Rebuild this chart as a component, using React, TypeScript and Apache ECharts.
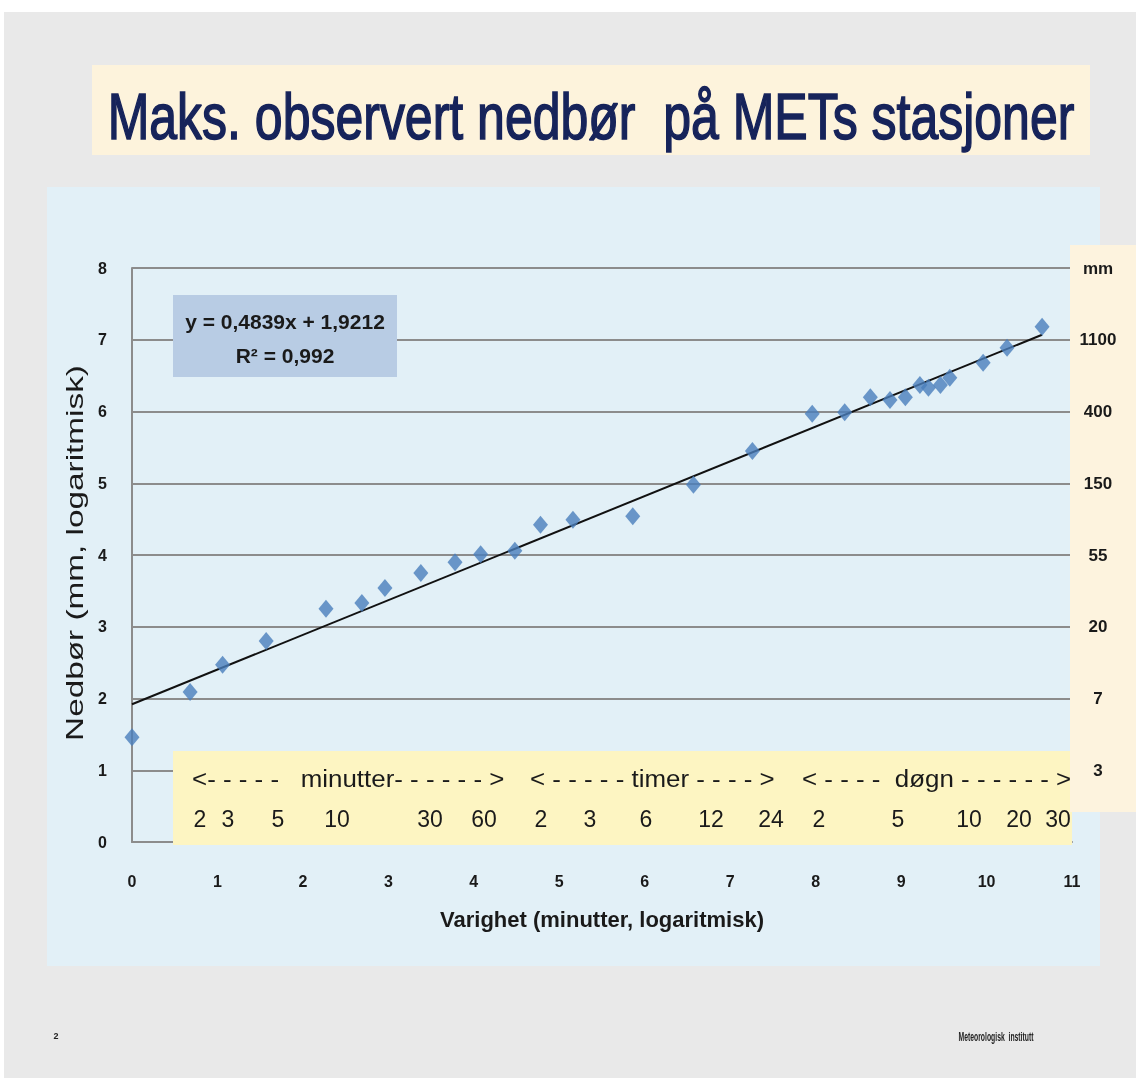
import React, { useEffect, useRef } from "react";
import * as echarts from "echarts";

// ---- Data ----
// x: varighet, ln(minutter); y: ln(nedbør mm)
const durationX = [0, 0.68, 1.06, 1.57, 2.27, 2.69, 2.96, 3.38, 3.78, 4.08, 4.48, 4.78, 5.16, 5.86, 6.57, 7.26, 7.96, 8.34, 8.64, 8.87, 9.05, 9.22, 9.32, 9.46, 9.57, 9.96, 10.24, 10.65];
const precipY = [1.46, 2.09, 2.47, 2.80, 3.25, 3.33, 3.54, 3.75, 3.90, 4.01, 4.06, 4.42, 4.49, 4.54, 4.98, 5.45, 5.97, 5.99, 6.20, 6.16, 6.20, 6.37, 6.33, 6.37, 6.47, 6.68, 6.89, 7.18];
// Linear trend line endpoints
const trendX = [0, 10.65];
const trendY = [1.92, 7.07];
const rightLabels = ["", "3", "7", "20", "55", "150", "400", "1100", "mm"];
const bandHeaders = ["<- - - - -   minutter- - - - - - >", "< - - - - - timer - - - - >", "< - - - -  døgn - - - - - - >"];
const bandNumbers = ["2", "3", "5", "10", "30", "60", "2", "3", "6", "12", "24", "2", "5", "10", "20", "30"];
const equationLines = ["y = 0,4839x + 1,9212", "R² = 0,992"];
const titleText = "Maks. observert nedbør  på METs stasjoner";
const xAxisName = "Varighet (minutter, logaritmisk)";
const yAxisName = "Nedbør (mm, logaritmisk)";
const footerLeft = "2";
const footerRight = "Meteorologisk  institutt";

// ---- Layout (pixels) ----
const bandHeaderX = [192, 530, 802];
const bandNumberX = [200, 228, 278, 337, 430, 484, 541, 590, 646, 711, 771, 819, 898, 969, 1019, 1058];

export default function App() {
  const ref = useRef<HTMLDivElement>(null);
  useEffect(() => {
    if (!ref.current) return;
    const chart = echarts.init(ref.current, null, { renderer: "svg" });
    const font = "'Liberation Sans', Arial, sans-serif";
    const graphics: any[] = [
      { type: "rect", z: -100, shape: { x: 0, y: 0, width: 1136, height: 1079 }, style: { fill: "#ffffff" } },
      { type: "rect", z: -99, shape: { x: 4, y: 12, width: 1132, height: 1066 }, style: { fill: "#e9e9e9" } },
      { type: "rect", z: -98, shape: { x: 92, y: 65, width: 998, height: 90 }, style: { fill: "#fdf3dc" } },
      { type: "rect", z: -98, shape: { x: 47, y: 187, width: 1053, height: 779 }, style: { fill: "#e2f0f7" } },
      {
        type: "text", z: 5, x: 591, y: 117, scaleY: 1.28,
        style: {
          text: titleText, font: `50px ${font}`, fill: "#16235a", align: "center", verticalAlign: "middle",
          stroke: "#16235a", lineWidth: 1.2,
          shadowColor: "rgba(0,0,0,0.35)", shadowBlur: 2, shadowOffsetX: 2, shadowOffsetY: 2,
        },
      },
      {
        type: "text", z: 5, x: 75, y: 553, rotation: Math.PI / 2, scaleX: 1.45,
        style: { text: yAxisName, font: `23px ${font}`, fill: "#1a1a1a", align: "center", verticalAlign: "middle" },
      },
      { type: "rect", z: 10, shape: { x: 173, y: 295, width: 224, height: 82 }, style: { fill: "#b8cce4" } },
      { type: "text", z: 11, x: 285, y: 321, style: { text: equationLines[0], font: `bold 21px ${font}`, fill: "#1a1a1a", align: "center", verticalAlign: "middle" } },
      { type: "text", z: 11, x: 285, y: 355, style: { text: equationLines[1], font: `bold 21px ${font}`, fill: "#1a1a1a", align: "center", verticalAlign: "middle" } },
      { type: "rect", z: 10, shape: { x: 173, y: 751, width: 899, height: 94 }, style: { fill: "#fdf5c2" } },
      { type: "rect", z: 10, shape: { x: 1070, y: 245, width: 66, height: 567 }, style: { fill: "#fdf3de" } },
      { type: "text", z: 11, x: 56, y: 1036, style: { text: footerLeft, font: `bold 9px ${font}`, fill: "#222", align: "center", verticalAlign: "middle" } },
      { type: "text", z: 11, x: 996, y: 1036, scaleX: 0.62, scaleY: 1.2, style: { text: footerRight, font: `bold 11px ${font}`, fill: "#222", align: "center", verticalAlign: "middle" } },
    ];
    bandHeaders.forEach((t, i) => {
      graphics.push({ type: "text", z: 11, x: bandHeaderX[i], y: 778, scaleX: 1.08, style: { text: t, font: `24px ${font}`, fill: "#1a1a1a", align: "left", verticalAlign: "middle" } });
    });
    bandNumbers.forEach((t, i) => {
      graphics.push({ type: "text", z: 11, x: bandNumberX[i], y: 819, style: { text: t, font: `23px ${font}`, fill: "#1a1a1a", align: "center", verticalAlign: "middle" } });
    });

    chart.setOption({
      animation: false,
      backgroundColor: "transparent",
      graphic: { elements: graphics },
      grid: { left: 132, top: 268, width: 940, height: 574, containLabel: false },
      xAxis: {
        type: "value", min: 0, max: 11, interval: 1,
        name: xAxisName, nameLocation: "middle", nameGap: 66,
        nameTextStyle: { fontFamily: font, fontWeight: "bold", fontSize: 22, color: "#1a1a1a" },
        axisLine: { show: true, lineStyle: { color: "#8c8c8c", width: 2 } },
        axisTick: { show: false },
        splitLine: { show: false },
        axisLabel: { margin: 31, fontFamily: font, fontWeight: "bold", fontSize: 16, color: "#1a1a1a" },
      },
      yAxis: [
        {
          type: "value", min: 0, max: 8, interval: 1,
          axisLine: { show: true, lineStyle: { color: "#8c8c8c", width: 2 } },
          axisTick: { show: false },
          splitLine: { show: true, lineStyle: { color: "#8c8c8c", width: 2 } },
          axisLabel: { margin: 25, fontFamily: font, fontWeight: "bold", fontSize: 16, color: "#1a1a1a" },
        },
        {
          type: "value", min: 0, max: 8, interval: 1, position: "right",
          axisLine: { show: false }, axisTick: { show: false }, splitLine: { show: false },
          axisLabel: {
            margin: 26, align: "center", fontFamily: font, fontWeight: "bold", fontSize: 17, color: "#1a1a1a",
            formatter: (v: number) => rightLabels[Math.round(v)] ?? "",
          },
          z: 12,
        },
      ],
      series: [
        {
          type: "line", z: 3,
          data: trendX.map((x, i) => [x, trendY[i]]),
          symbol: "none",
          lineStyle: { color: "#111", width: 2 },
        },
        {
          type: "scatter", z: 4,
          data: durationX.map((x, i) => [x, precipY[i]]),
          symbol: "diamond", symbolSize: [15, 18],
          itemStyle: { color: "#4a7ebb" },
        },
      ],
    });
    return () => chart.dispose();
  }, []);
  return <div ref={ref} style={{ position: "fixed", left: 0, top: 0, width: 1136, height: 1079 }} />;
}
